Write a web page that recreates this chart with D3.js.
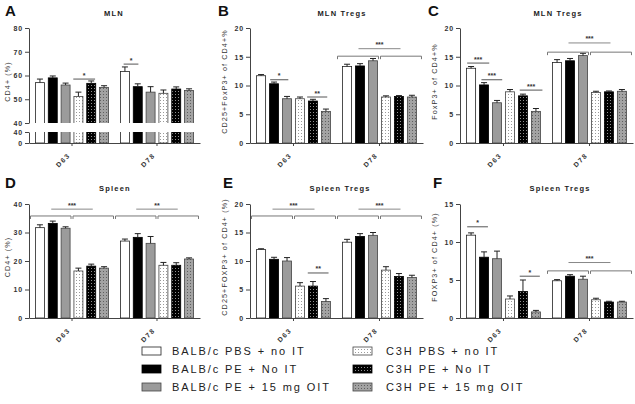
<!DOCTYPE html>
<html><head><meta charset="utf-8">
<script src="https://cdn.jsdelivr.net/npm/d3@7"></script>
<style>
body{margin:0;background:#fff}
svg{display:block;font-family:"Liberation Sans",Arial,sans-serif}
</style>
</head><body>
<svg id="chart" width="635" height="404"></svg>
<script>
// ---------------- DATA ----------------
const groups = ["D63", "D78"];
const seriesNames = ["BALB/c PBS + no IT", "BALB/c PE + No IT", "BALB/c PE + 15 mg OIT",
                     "C3H PBS + no IT", "C3H PE + No IT", "C3H PE + 15 mg OIT"];

// Panel A – MLN CD4+ (%)
const valuesA = [[57.0, 59.0, 56.0, 51.2, 56.7, 55.0], [61.7, 55.3, 53.0, 52.5, 54.3, 53.7]];
const errorsA = [[1.5, 0.8, 0.8, 1.8, 1.0, 0.7], [1.9, 1.2, 2.3, 1.4, 0.9, 0.7]];
const ticksA = [40, 50, 60, 70, 80];
const ticksALow = [0, 40];
// Panel B – MLN Tregs CD25+FoxP3+
const valuesB = [[11.7, 10.3, 7.7, 7.7, 7.3, 5.5], [13.3, 13.4, 14.3, 8.0, 8.1, 8.0]];
const errorsB = [[0.2, 0.3, 0.4, 0.3, 0.3, 0.4], [0.4, 0.4, 0.4, 0.2, 0.15, 0.3]];
const ticksB = [0, 5, 10, 15, 20];
// Panel C – MLN Tregs FoxP3+
const valuesC = [[13.0, 10.1, 7.0, 8.9, 8.2, 5.5], [14.0, 14.3, 15.2, 8.8, 8.9, 9.0]];
const errorsC = [[0.3, 0.4, 0.4, 0.4, 0.3, 0.5], [0.5, 0.4, 0.4, 0.2, 0.15, 0.3]];
const ticksC = [0, 5, 10, 15, 20];
// Panel D – Spleen CD4+ (%)
const valuesD = [[31.7, 33.2, 31.5, 16.5, 18.2, 17.5], [27.0, 28.3, 26.2, 18.5, 18.5, 20.7]];
const errorsD = [[1.0, 0.8, 0.5, 1.0, 0.7, 0.5], [0.7, 1.3, 2.4, 1.0, 0.9, 0.4]];
const ticksD = [0, 10, 20, 30, 40];
// Panel E – Spleen Tregs CD25+FOXP3+
const valuesE = [[12.0, 10.3, 10.0, 5.6, 5.6, 2.9], [13.3, 14.3, 14.5, 8.4, 7.3, 7.1]];
const errorsE = [[0.15, 0.35, 0.6, 0.6, 0.8, 0.5], [0.5, 0.5, 0.5, 0.6, 0.5, 0.4]];
const ticksE = [0, 5, 10, 15, 20];
// Panel F – Spleen Tregs FOXP3+
const valuesF = [[10.9, 8.0, 7.8, 2.5, 3.5, 0.8], [4.9, 5.5, 5.1, 2.4, 2.1, 2.1]];
const errorsF = [[0.3, 0.7, 1.0, 0.4, 1.5, 0.2], [0.15, 0.2, 0.4, 0.2, 0.1, 0.1]];
const ticksF = [0, 5, 10, 15];

// significance annotations (bar-index spans, values in data units)
const sigA = [{g: "D63", from: 2.6, to: 4.3, v: 58.5, label: "*"}, {g: "D78", from: -0.1, to: 1.05, v: 64.8, label: "*"}];
const bracketsA = [];
const sigB = [{g: "D63", from: 0.7, to: 2.1, v: 11.0, label: "*"}, {g: "D63", from: 3.55, to: 5.1, v: 8.0, label: "**"}];
const bracketsB = [{g: "D78", v: 15.1, top: 16.4, label: "***"}];
const sigC = [{g: "D63", from: -0.3, to: 1.4, v: 13.9, label: "***"}, {g: "D63", from: 0.8, to: 2.4, v: 11.0, label: "***"},
              {g: "D63", from: 3.75, to: 5.5, v: 9.2, label: "***"}];
const bracketsC = [{g: "D78", v: 15.8, top: 17.4, label: "***"}];
const sigD = [];
const bracketsD = [{g: "D63", v: 35.8, top: 38.2, label: "***"}, {g: "D78", v: 35.8, top: 38.2, label: "**"}];
const sigE = [{g: "D63", from: 3.6, to: 5.2, v: 7.9, label: "**"}];
const bracketsE = [{g: "D63", v: 17.9, top: 19.1, label: "***"}, {g: "D78", v: 17.9, top: 19.1, label: "***"}];
const sigF = [{g: "D63", from: -0.3, to: 1.3, v: 12.0, label: "*"}, {g: "D63", from: 3.75, to: 5.3, v: 5.5, label: "*"}];
const bracketsF = [{g: "D78", v: 6.2, top: 7.3, label: "***"}];

// ---------------- DRAWING ----------------
const svg = d3.select("#chart");
const defs = svg.append("defs");
function dotPattern(id, bg, dot) {
  const p = defs.append("pattern").attr("id", id).attr("patternUnits", "userSpaceOnUse")
    .attr("width", 3).attr("height", 3);
  p.append("rect").attr("width", 3).attr("height", 3).attr("fill", bg);
  p.append("rect").attr("x", 1).attr("y", 1).attr("width", 1).attr("height", 1).attr("fill", dot);
}
dotPattern("pw", "#ffffff", "#9a9a9a");
dotPattern("pk", "#000000", "#909090");
dotPattern("pg", "#a3a3a3", "#5f5f5f");
const fills = ["#ffffff", "#000000", "#9b9b9b", "url(#pw)", "url(#pk)", "url(#pg)"];
const strokes = ["#222", "#000", "#444", "#444", "#000", "#444"];

const AX = "#444";
const fontTick = 7, fontLab = 7.2;

function styleAxis(g) {
  g.attr("font-family", null).attr("font-size", null);
  g.selectAll(".domain").attr("stroke", AX).attr("stroke-width", 1);
  g.selectAll(".tick line").attr("stroke", AX);
  g.selectAll(".tick text").attr("font-size", fontTick).attr("font-weight", "bold")
    .attr("fill", "#333").attr("letter-spacing", 0.8);
}

function drawPanel(cfg, values, errors, sig, brackets) {
  const g = svg.append("g");
  const outer = d3.scaleBand().domain(groups).range([cfg.x0, cfg.x1]).paddingInner(0.14).paddingOuter(0.076);
  const inner = d3.scaleBand().domain(d3.range(6)).range([0, outer.bandwidth()]).paddingInner(0.3);
  const bw = inner.bandwidth();
  const fx = (gname, f) => outer(gname) + inner.step() * f + bw / 2;

  // scales
  let y, yLow = null;
  if (cfg.brk) {
    y = d3.scaleLinear().domain([40, 80]).range([cfg.brk.upBot, cfg.yTop]);
    yLow = d3.scaleLinear().domain([0, 40]).range([cfg.yBot, cfg.brk.lowTop]);
  } else {
    y = d3.scaleLinear().domain(cfg.domain).range([cfg.yBot, cfg.yTop]);
  }

  // bars
  const bars = [];
  groups.forEach((gn, gi) => values[gi].forEach((v, i) => bars.push({g: gn, i, v, e: errors[gi][i]})));
  const barX = d => outer(d.g) + inner(d.i);

  if (cfg.brk) {
    const idU = "clipU" + cfg.letter, idL = "clipL" + cfg.letter;
    defs.append("clipPath").attr("id", idU).append("rect")
      .attr("x", cfg.x0).attr("y", cfg.yTop - 10).attr("width", cfg.x1 - cfg.x0).attr("height", cfg.brk.upBot - cfg.yTop + 10);
    defs.append("clipPath").attr("id", idL).append("rect")
      .attr("x", cfg.x0).attr("y", cfg.brk.lowTop).attr("width", cfg.x1 - cfg.x0).attr("height", cfg.yBot - cfg.brk.lowTop + 2);
    g.append("g").attr("clip-path", `url(#${idU})`).selectAll("rect").data(bars).join("rect")
      .attr("x", barX).attr("width", bw)
      .attr("y", d => y(d.v)).attr("height", d => y(40) + 5 - y(d.v))
      .attr("fill", d => fills[d.i]).attr("stroke", d => strokes[d.i]).attr("stroke-width", 0.8);
    g.append("g").attr("clip-path", `url(#${idL})`).selectAll("rect").data(bars).join("rect")
      .attr("x", barX).attr("width", bw)
      .attr("y", yLow(40) - 5).attr("height", yLow(0) - yLow(40) + 5)
      .attr("fill", d => fills[d.i]).attr("stroke", d => strokes[d.i]).attr("stroke-width", 0.8);
  } else {
    g.append("g").selectAll("rect").data(bars).join("rect")
      .attr("x", barX).attr("width", bw)
      .attr("y", d => y(d.v)).attr("height", d => y(cfg.domain[0]) - y(d.v))
      .attr("fill", d => fills[d.i]).attr("stroke", d => strokes[d.i]).attr("stroke-width", 0.8);
  }
  // error bars
  const eb = g.append("g").attr("stroke", "#222").attr("stroke-width", 1);
  bars.forEach(d => {
    const cx = barX(d) + bw / 2;
    eb.append("line").attr("x1", cx).attr("x2", cx).attr("y1", y(d.v)).attr("y2", y(d.v + d.e));
    eb.append("line").attr("x1", cx - 3).attr("x2", cx + 3).attr("y1", y(d.v + d.e)).attr("y2", y(d.v + d.e));
  });

  // y axis
  if (cfg.brk) {
    g.append("g").attr("transform", `translate(${cfg.x0},0)`)
      .call(d3.axisLeft(y).tickValues(ticksA).tickSize(4).tickSizeOuter(0).tickPadding(2)).call(styleAxis);
    g.append("g").attr("transform", `translate(${cfg.x0},0)`)
      .call(d3.axisLeft(yLow).tickValues(ticksALow).tickSize(4).tickSizeOuter(0).tickPadding(2)).call(styleAxis);
  } else {
    g.append("g").attr("transform", `translate(${cfg.x0},0)`)
      .call(d3.axisLeft(y).tickValues(cfg.ticks).tickSize(4).tickSizeOuter(0).tickPadding(2)).call(styleAxis);
  }
  // x axis
  const xa = g.append("g").attr("transform", `translate(0,${cfg.yBot})`)
    .call(d3.axisBottom(outer).tickSize(3).tickSizeOuter(0)).call(styleAxis);
  xa.selectAll(".tick text").attr("transform", "translate(-3,11) rotate(-45)").attr("text-anchor", "end")
    .attr("x", 0).attr("y", 0).attr("dy", "0.35em").attr("font-size", 6.8).attr("letter-spacing", 1.5);

  // significance lines
  const sg = g.append("g");
  sig.forEach(s => {
    const x1 = fx(s.g, s.from), x2 = fx(s.g, s.to), yy = y(s.v);
    sg.append("line").attr("x1", x1).attr("x2", x2).attr("y1", yy).attr("y2", yy)
      .attr("stroke", "#555").attr("stroke-width", 1);
    sg.append("text").attr("x", (x1 + x2) / 2).attr("y", yy - 1.5).attr("text-anchor", "middle")
      .attr("font-size", 7).attr("font-weight", "bold").attr("fill", "#333").text(s.label);
  });
  brackets.forEach(b => {
    const cx = outer(b.g) + outer.bandwidth() / 2, half = outer.step() / 2 - 1;
    const yb = y(b.v), yt = y(b.top);
    const path = (a, c) => `M${a},${yb + 3}V${yb}H${c}V${yb + 3}`;
    sg.append("path").attr("d", path(cx - half, cx - 1)).attr("fill", "none").attr("stroke", "#777").attr("stroke-width", 1);
    sg.append("path").attr("d", path(cx + 1, cx + half)).attr("fill", "none").attr("stroke", "#777").attr("stroke-width", 1);
    sg.append("line").attr("x1", cx - half / 2).attr("x2", cx + half / 2).attr("y1", yt).attr("y2", yt)
      .attr("stroke", "#888").attr("stroke-width", 1);
    sg.append("text").attr("x", cx).attr("y", yt - 1.5).attr("text-anchor", "middle")
      .attr("font-size", 7).attr("font-weight", "bold").attr("fill", "#333").text(b.label);
  });

  // letter, title, y label
  g.append("text").attr("x", cfg.lx).attr("y", cfg.ly).attr("font-size", 15).attr("font-weight", "bold")
    .attr("fill", "#111").text(cfg.letter);
  g.append("text").attr("x", cfg.tx).attr("y", cfg.ty).attr("text-anchor", "middle").attr("font-size", 7.5)
    .attr("font-weight", "bold").attr("letter-spacing", 1.2).attr("fill", "#222").text(cfg.title);
  const ymid = (cfg.yTop + cfg.yBot) / 2 - 4;
  g.append("text").attr("transform", `translate(${cfg.ylx},${ymid}) rotate(-90)`).attr("text-anchor", "middle")
    .attr("font-size", fontLab).attr("letter-spacing", 1.1).attr("fill", "#333").text(cfg.ylabel);
}

drawPanel({letter: "A", x0: 29, x1: 200, yTop: 28, yBot: 143, brk: {upBot: 123, lowTop: 132},
  lx: 5, ly: 16, tx: 114, ty: 16, ylx: 10, ylabel: "CD4+ (%)", title: "MLN"}, valuesA, errorsA, sigA, bracketsA);
drawPanel({letter: "B", x0: 250, x1: 423, yTop: 28, yBot: 143, domain: [0, 20], ticks: ticksB,
  lx: 218, ly: 16, tx: 342, ty: 16, ylx: 227, ylabel: "CD25+FoxP3+ of CD4+%", title: "MLN Tregs"}, valuesB, errorsB, sigB, bracketsB);
drawPanel({letter: "C", x0: 460, x1: 633, yTop: 28, yBot: 143, domain: [0, 20], ticks: ticksC,
  lx: 428, ly: 16, tx: 558, ty: 16, ylx: 437, ylabel: "FoxP3+ of CD4+%", title: "MLN Tregs"}, valuesC, errorsC, sigC, bracketsC);
drawPanel({letter: "D", x0: 29, x1: 200, yTop: 204, yBot: 318, domain: [0, 40], ticks: ticksD,
  lx: 5, ly: 188, tx: 115, ty: 191, ylx: 10, ylabel: "CD4+ (%)", title: "Spleen"}, valuesD, errorsD, sigD, bracketsD);
drawPanel({letter: "E", x0: 250, x1: 423, yTop: 204, yBot: 318, domain: [0, 20], ticks: ticksE,
  lx: 223, ly: 188, tx: 340, ty: 191, ylx: 227, ylabel: "CD25+FOXP3+ of CD4+ (%)", title: "Spleen Tregs"}, valuesE, errorsE, sigE, bracketsE);
drawPanel({letter: "F", x0: 460, x1: 633, yTop: 204, yBot: 318, domain: [0, 15], ticks: ticksF,
  lx: 433, ly: 188, tx: 560, ty: 191, ylx: 437, ylabel: "FOXP3+ of CD4+ (%)", title: "Spleen Tregs"}, valuesF, errorsF, sigF, bracketsF);

// legend
const legend = svg.append("g");
const legCols = [142, 353], legText = [172, 386], legRows = [351, 369, 387];
seriesNames.forEach((name, i) => {
  const col = Math.floor(i / 3), row = i % 3;
  legend.append("rect").attr("x", legCols[col]).attr("y", legRows[row] - 4).attr("width", 19).attr("height", 8)
    .attr("fill", fills[i]).attr("stroke", strokes[i]).attr("stroke-width", 0.8);
  legend.append("text").attr("x", legText[col]).attr("y", legRows[row]).attr("dy", "0.35em")
    .attr("font-size", 11).attr("letter-spacing", 1.9).attr("fill", "#222").text(name);
});
</script>
</body></html>
